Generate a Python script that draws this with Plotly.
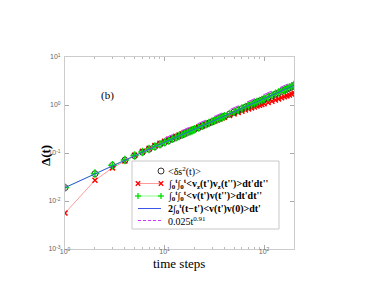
import plotly.graph_objects as go

# time steps sampled along the curves
t = [1, 2, 3, 4, 5, 6, 7, 8, 9, 10, 11, 12, 13, 14, 15, 16, 17, 18, 19, 20,
     22, 24, 26, 28, 30, 32, 34, 36, 38, 40,
     45, 50, 55, 60, 65, 70, 75, 80, 85, 90, 95, 100,
     110, 120, 130, 140, 150, 160, 170, 180, 190, 200]

ds2 = [0.019, 0.037, 0.055, 0.071, 0.088, 0.104, 0.120, 0.136, 0.151, 0.166,
       0.181, 0.196, 0.210, 0.225, 0.239, 0.253, 0.268, 0.282, 0.296, 0.310,
       0.338, 0.366, 0.393, 0.420, 0.448, 0.475, 0.502, 0.529, 0.556, 0.583,
       0.648, 0.712, 0.776, 0.840, 0.900, 0.962, 1.022, 1.083, 1.142, 1.202, 1.262, 1.32,
       1.44, 1.56, 1.68, 1.80, 1.92, 2.04, 2.16, 2.28, 2.40, 2.55]

vz_int = [0.0056, 0.027, 0.049, 0.068, 0.090, 0.108, 0.126, 0.143, 0.160, 0.176,
          0.192, 0.208, 0.223, 0.238, 0.252, 0.266, 0.280, 0.294, 0.307, 0.320,
          0.346, 0.372, 0.397, 0.421, 0.445, 0.468, 0.490, 0.512, 0.534, 0.555,
          0.605, 0.654, 0.700, 0.745, 0.788, 0.830, 0.871, 0.911, 0.950, 0.988, 1.025, 1.06,
          1.13, 1.20, 1.27, 1.34, 1.41, 1.48, 1.55, 1.62, 1.69, 1.78]

v_int = [0.019, 0.0375, 0.0555, 0.0715, 0.089, 0.105, 0.121, 0.137, 0.152, 0.167,
         0.182, 0.197, 0.212, 0.226, 0.241, 0.255, 0.270, 0.284, 0.298, 0.312,
         0.340, 0.368, 0.396, 0.423, 0.451, 0.478, 0.506, 0.533, 0.560, 0.587,
         0.653, 0.718, 0.783, 0.848, 0.910, 0.973, 1.035, 1.097, 1.158, 1.220, 1.281, 1.342,
         1.465, 1.588, 1.711, 1.834, 1.957, 2.08, 2.20, 2.33, 2.46, 2.62]

vacf_int = ds2

fit_t = [10, 200]
fit_v = [0.203, 3.10]

names = ["&lt;δs<sup>2</sup>(t)&gt;",
         "<b>∫<sub>0</sub><sup>t</sup>∫<sub>0</sub><sup>t</sup>&lt;v<sub>z</sub>(t')v<sub>z</sub>(t'')&gt;dt'dt''</b>",
         "<b>∫<sub>0</sub><sup>t</sup>∫<sub>0</sub><sup>t</sup>&lt;v(t')v(t'')&gt;dt'dt''</b>",
         "<b>2∫<sub>0</sub><sup>t</sup>(t−t')&lt;v(t')v(0)&gt;dt'</b>",
         "0.025t<sup>0.91</sup>"]

xt = [1, 10, 100]
xl = ["10<sup>0</sup>", "10<sup>1</sup>", "10<sup>2</sup>"]
yt = [0.001, 0.01, 0.1, 1, 10]
yl = ["10<sup>-3</sup>", "10<sup>-2</sup>", "10<sup>-1</sup>", "10<sup>0</sup>", "10<sup>1</sup>"]

serif = "Liberation Serif"
RED, RED_L = "#ff0000", "#ff9a9a"
GREEN, GREEN_L = "#00e000", "#8cff8c"
BLUE = "#3a55e8"
PURPLE = "#cc33ff"

W, H = 374, 289
L, R, T, B = 57, 88, 49, 48
PW, PH = W - L - R, H - T - B


def px(x):
    return (x - L) / PW


def py(y):
    return (H - B - y) / PH


fig = go.Figure()
fig.add_trace(go.Scatter(x=t, y=vz_int, mode="lines+markers", name=names[1],
                         line=dict(color=RED_L, width=1),
                         marker=dict(symbol="x-thin-open", size=5, color=RED,
                                     line=dict(width=1.5, color=RED))))
fig.add_trace(go.Scatter(x=t, y=ds2, mode="markers", name=names[0],
                         marker=dict(symbol="circle-open", size=6, color="#333333",
                                     line=dict(width=1))))
fig.add_trace(go.Scatter(x=t, y=v_int, mode="lines+markers", name=names[2],
                         line=dict(color=GREEN_L, width=1),
                         marker=dict(symbol="cross-thin-open", size=6, color=GREEN,
                                     line=dict(width=1.5, color=GREEN))))
fig.add_trace(go.Scatter(x=t, y=vacf_int, mode="lines", name=names[3],
                         line=dict(color=BLUE, width=1)))
fig.add_trace(go.Scatter(x=fit_t, y=fit_v, mode="lines", name=names[4],
                         line=dict(color=PURPLE, width=1, dash="dash")))

# ---- hand-drawn legend (box, sample symbols, texts) ----
shapes = [dict(type="rect", xref="paper", yref="paper",
               x0=px(124), x1=px(271), y0=py(221), y1=py(153),
               line=dict(color="#c8c8c8", width=1), fillcolor="white", layer="above")]
rows = [163, 175.5, 188, 200.5, 212.5]
xa, xb = 130, 153
annotations = []


def seg(y, color, dash="solid"):
    shapes.append(dict(type="line", xref="paper", yref="paper", x0=px(xa), x1=px(xb),
                       y0=py(y), y1=py(y), line=dict(color=color, width=1, dash=dash),
                       layer="above"))


def xmark(xc, y, color):
    d = 2.2
    for s in (1, -1):
        shapes.append(dict(type="line", xref="paper", yref="paper",
                           x0=px(xc - d), x1=px(xc + d), y0=py(y - s * d), y1=py(y + s * d),
                           line=dict(color=color, width=1.3), layer="above"))


def plus(xc, y, color):
    d = 3
    shapes.append(dict(type="line", xref="paper", yref="paper", x0=px(xc - d), x1=px(xc + d),
                       y0=py(y), y1=py(y), line=dict(color=color, width=1.3), layer="above"))
    shapes.append(dict(type="line", xref="paper", yref="paper", x0=px(xc), x1=px(xc),
                       y0=py(y - d), y1=py(y + d), line=dict(color=color, width=1.3), layer="above"))


# row 1: open circle
shapes.append(dict(type="circle", xref="paper", yref="paper", x0=px(xb - 3), x1=px(xb + 3),
                   y0=py(rows[0] + 3), y1=py(rows[0] - 3), line=dict(color="#333333", width=1),
                   layer="above"))
# row 2: red line with x
seg(rows[1], RED_L)
xmark(xa, rows[1], RED)
xmark(xb, rows[1], RED)
# row 3: green line with +
seg(rows[2], GREEN_L)
plus(xa, rows[2], GREEN)
plus(xb, rows[2], GREEN)
# row 4: blue line
seg(rows[3], BLUE)
# row 5: dashed purple
seg(rows[4], PURPLE, dash="3px,2px")

for name, y in zip(names, rows):
    annotations.append(dict(text=name, x=px(158), y=py(y), xref="paper", yref="paper",
                            xanchor="left", yanchor="middle", showarrow=False,
                            font=dict(family=serif, size=10, color="black")))

annotations.append(dict(text="(b)", x=px(91), y=py(79), xref="paper", yref="paper",
                        showarrow=False, font=dict(family=serif, size=11, color="black")))
annotations.append(dict(text="time steps", x=px(171), y=py(255), xref="paper", yref="paper",
                        showarrow=False, yanchor="middle",
                        font=dict(family=serif, size=13, color="black")))
annotations.append(dict(text="<b>Δ(t)</b>", x=px(37), y=py(148), xref="paper", yref="paper",
                        showarrow=False, textangle=-90, xanchor="center", yanchor="middle",
                        font=dict(family=serif, size=13, color="black")))

fig.update_layout(
    width=W, height=H,
    margin=dict(l=L, r=R, t=T, b=B),
    paper_bgcolor="white", plot_bgcolor="white",
    showlegend=False,
    font=dict(family=serif),
    shapes=shapes,
    annotations=annotations,
)
fig.update_xaxes(type="log", range=[0, 2.301], tickvals=xt, ticktext=xl,
                 showgrid=False, zeroline=False, automargin=False,
                 showline=True, linecolor="#cccccc", linewidth=1, mirror="allticks",
                 ticks="inside", ticklen=4, tickcolor="#aaaaaa",
                 minor=dict(ticks="inside", ticklen=2, tickcolor="#bbbbbb", dtick="D1", showgrid=False),
                 tickfont=dict(family="Liberation Sans", size=7, color="#666666"),
                 ticklabelstandoff=-4)
fig.update_yaxes(type="log", range=[-3, 1], tickvals=yt, ticktext=yl,
                 showgrid=False, zeroline=False, automargin=False,
                 showline=True, linecolor="#cccccc", linewidth=1, mirror="allticks",
                 ticks="inside", ticklen=4, tickcolor="#aaaaaa",
                 tickfont=dict(family="Liberation Sans", size=7, color="#666666"),
                 ticklabelstandoff=2)

fig.write_html("out.html")
